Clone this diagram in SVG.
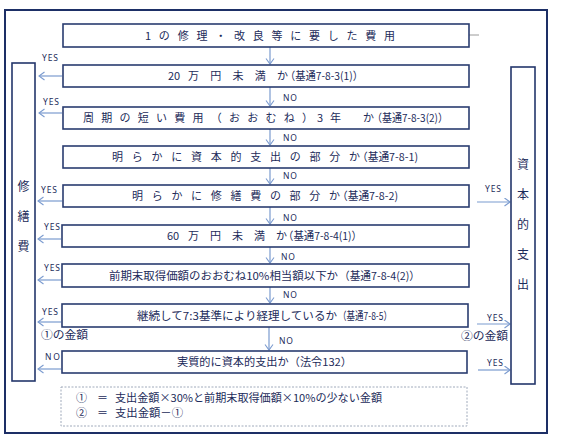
<svg xmlns="http://www.w3.org/2000/svg" width="563" height="440" viewBox="0 0 563 440">
<defs>
<style>
.frame{fill:#fff;stroke:#1d2f66;stroke-width:2}
.box{fill:#fff;stroke:#2a3c70;stroke-width:1.6}
.side{fill:#fff;stroke:#24366b;stroke-width:1.6}
.t{font-family:"Noto Sans CJK JP","Noto Sans",sans-serif;font-size:11px;fill:#1c2b5a}
.v{font-family:"Noto Sans CJK JP",sans-serif;font-size:12px;fill:#1c2b5a;text-anchor:middle}
.lb{font-family:"Noto Sans","Noto Sans CJK JP",sans-serif;font-size:8.5px;fill:#1c2b5a}
.ar{fill:none;stroke:#7b9bcf;stroke-width:1.2}
.note{fill:none;stroke:#a0aabb;stroke-width:1;stroke-dasharray:2 1.5}
</style>
<marker id="ah" markerWidth="8" markerHeight="10" refX="6" refY="4.5" orient="auto" markerUnits="userSpaceOnUse">
<path d="M0.5,0.5 L6,4.5 L0.5,8.5" fill="none" stroke="#7b9bcf" stroke-width="1.1"/>
</marker>
</defs>
<rect width="563" height="440" fill="#fff"/>
<rect class="frame" x="5" y="10" width="542" height="423"/>

<g id="connectors">
<line x1="469" y1="35" x2="479" y2="35" stroke="#9a9a9a" stroke-width="1"/>
<line class="ar" x1="270" y1="47" x2="270" y2="64" marker-end="url(#ah)"/>
<line class="ar" x1="270" y1="87" x2="270" y2="106" marker-end="url(#ah)"/>
<line class="ar" x1="270" y1="129" x2="270" y2="145" marker-end="url(#ah)"/>
<line class="ar" x1="270" y1="168" x2="270" y2="184" marker-end="url(#ah)"/>
<line class="ar" x1="270" y1="207" x2="270" y2="224" marker-end="url(#ah)"/>
<line class="ar" x1="270" y1="247" x2="270" y2="263" marker-end="url(#ah)"/>
<line class="ar" x1="270" y1="287" x2="270" y2="303" marker-end="url(#ah)"/>
<line class="ar" x1="269" y1="327" x2="269" y2="350" marker-end="url(#ah)"/>
<line class="ar" x1="62" y1="76" x2="39" y2="76" marker-end="url(#ah)"/>
<line class="ar" x1="62" y1="113" x2="39" y2="113" marker-end="url(#ah)"/>
<line class="ar" x1="62" y1="201" x2="38" y2="201" marker-end="url(#ah)"/>
<line class="ar" x1="61" y1="239" x2="38" y2="239" marker-end="url(#ah)"/>
<line class="ar" x1="61" y1="280" x2="38" y2="280" marker-end="url(#ah)"/>
<line class="ar" x1="61" y1="322" x2="38" y2="322" marker-end="url(#ah)"/>
<line class="ar" x1="61" y1="369" x2="38" y2="369" marker-end="url(#ah)"/>
<line class="ar" x1="477" y1="202" x2="510" y2="202" marker-end="url(#ah)"/>
<line class="ar" x1="477" y1="324" x2="510" y2="324" marker-end="url(#ah)"/>
<line class="ar" x1="478" y1="370" x2="510" y2="370" marker-end="url(#ah)"/>
<text class="lb" x="42" y="61" textLength="16">YES</text>
<text class="lb" x="43" y="105" textLength="16">YES</text>
<text class="lb" x="41" y="193" textLength="16">YES</text>
<text class="lb" x="44" y="230" textLength="16">YES</text>
<text class="lb" x="44" y="271" textLength="16">YES</text>
<text class="lb" x="42" y="315" textLength="16">YES</text>
<text class="lb" x="45" y="360" textLength="15">NO</text>
<text class="t" x="41" y="339" textLength="47" lengthAdjust="spacingAndGlyphs">①の金額</text>
<text class="lb" x="485" y="192" textLength="16">YES</text>
<text class="lb" x="487" y="321" textLength="16">YES</text>
<text class="lb" x="487" y="366" textLength="16">YES</text>
<text class="t" x="461" y="340" textLength="47" lengthAdjust="spacingAndGlyphs">②の金額</text>
<text class="lb" x="283" y="101" textLength="14">NO</text>
<text class="lb" x="283" y="141" textLength="14">NO</text>
<text class="lb" x="283" y="179" textLength="14">NO</text>
<text class="lb" x="283" y="221" textLength="14">NO</text>
<text class="lb" x="281" y="260" textLength="14">NO</text>
<text class="lb" x="283" y="298" textLength="14">NO</text>
<text class="lb" x="279" y="344" textLength="14">NO</text>
</g>

<g id="side-left">
<rect class="side" x="12" y="63" width="23" height="318"/>
<text class="v" x="23.5" y="191">修</text>
<text class="v" x="23.5" y="221">繕</text>
<text class="v" x="23.5" y="251">費</text>
</g>
<g id="side-right">
<rect class="side" x="511" y="67" width="24" height="317"/>
<text class="v" x="523" y="169">資</text>
<text class="v" x="523" y="199">本</text>
<text class="v" x="523" y="229">的</text>
<text class="v" x="523" y="259">支</text>
<text class="v" x="523" y="289">出</text>
</g>

<g id="n1">
<rect class="box" x="63" y="24" width="406" height="23"/>
<text class="t" x="145" y="40" textLength="250" lengthAdjust="spacing">1の修理・改良等に要した費用</text>
</g>
<g id="n2">
<rect class="box" x="63" y="65" width="406" height="22"/>
<text class="t" x="168" y="80" font-size="10">20</text>
<text class="t" x="188" y="80" textLength="100">万円未満か</text>
<text class="t" x="285" y="80" textLength="78" lengthAdjust="spacingAndGlyphs">（基通7-8-3(1)）</text>
</g>
<g id="n3">
<rect class="box" x="63" y="107" width="406" height="22"/>
<text class="t" x="83" y="122" textLength="230">周期の短い費用（おおむね）</text>
<text class="t" x="317" y="122" font-size="9">3</text>
<text class="t" x="330" y="122" textLength="44">年か</text>
<text class="t" x="372" y="122" textLength="76" lengthAdjust="spacingAndGlyphs">（基通7-8-3(2)）</text>
</g>
<g id="n4">
<rect class="box" x="63" y="146" width="406" height="22"/>
<text class="t" x="112" y="161" textLength="248">明らかに資本的支出の部分か</text>
<text class="t" x="357" y="161" textLength="61" lengthAdjust="spacingAndGlyphs">（基通7-8-1)</text>
</g>
<g id="n5">
<rect class="box" x="63" y="185" width="406" height="22"/>
<text class="t" x="132" y="200" textLength="208">明らかに修繕費の部分か</text>
<text class="t" x="337" y="200" textLength="61" lengthAdjust="spacingAndGlyphs">（基通7-8-2)</text>
</g>
<g id="n6">
<rect class="box" x="62" y="225" width="407" height="22"/>
<text class="t" x="167" y="240" font-size="10">60</text>
<text class="t" x="188" y="240" textLength="99">万円未満か</text>
<text class="t" x="283" y="240" textLength="79" lengthAdjust="spacingAndGlyphs">（基通7-8-4(1)）</text>
</g>
<g id="n7">
<rect class="box" x="62" y="264" width="407" height="23"/>
<text class="t" x="109" y="279.5" textLength="229" lengthAdjust="spacingAndGlyphs">前期末取得価額のおおむね10%相当額以下か</text>
<text class="t" x="339" y="279.5" textLength="81" lengthAdjust="spacingAndGlyphs">（基通7-8-4(2)）</text>
</g>
<g id="n8">
<rect class="box" x="62" y="304" width="406" height="23"/>
<text class="t" x="137" y="319.5" textLength="200" lengthAdjust="spacingAndGlyphs">継続して7:3基準により経理しているか</text>
<text class="t" x="338" y="319.5" textLength="54" lengthAdjust="spacingAndGlyphs">（基通7-8-5）</text>
</g>
<g id="n9">
<rect class="box" x="62" y="351" width="405" height="22"/>
<text class="t" x="177" y="366" textLength="175" lengthAdjust="spacingAndGlyphs">実質的に資本的支出か（法令132）</text>
</g>
<g id="note">
<rect class="note" x="61" y="387" width="406" height="39"/>
<text class="t" x="76" y="402">①<tspan x="97">＝</tspan><tspan x="115" textLength="267" lengthAdjust="spacingAndGlyphs">支出金額×30%と前期末取得価額×10%の少ない金額</tspan></text>
<text class="t" x="76" y="417">②<tspan x="97">＝</tspan><tspan x="115" textLength="68" lengthAdjust="spacingAndGlyphs">支出金額－①</tspan></text>
</g>
</svg>
